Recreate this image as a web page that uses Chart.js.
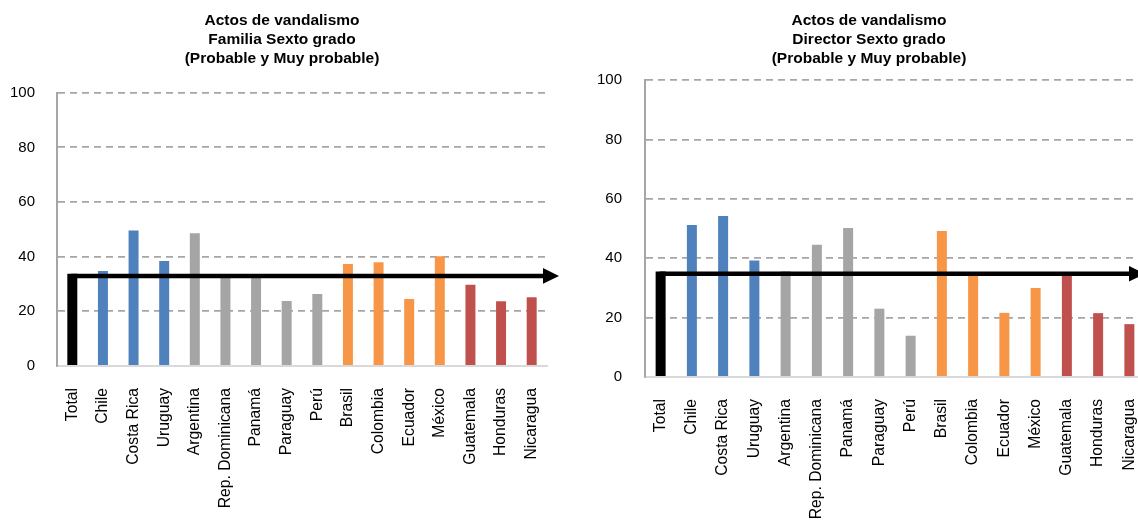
<!DOCTYPE html>
<html>
<head>
<meta charset="utf-8">
<script src="https://cdn.jsdelivr.net/npm/chart.js@4.4.1/dist/chart.umd.min.js"></script>
<style>
  html, body { margin: 0; padding: 0; background: #fff; overflow: hidden; width: 1138px; height: 520px; }
  .wrap { position: absolute; top: 0; }
  canvas { display: block; }
</style>
</head>
<body>
<div class="wrap" style="left:0px"><canvas id="c1" width="564" height="520"></canvas></div>
<div class="wrap" style="left:592px"><canvas id="c2" width="554" height="520"></canvas></div>
<script>
// ---- data ----
const categories = ['Total', 'Chile', 'Costa Rica', 'Uruguay', 'Argentina', 'Rep. Dominicana', 'Panamá', 'Paraguay', 'Perú', 'Brasil', 'Colombia', 'Ecuador', 'México', 'Guatemala', 'Honduras', 'Nicaragua'];
const familiaValues = [33.8, 34.8, 49.6, 38.4, 48.6, 32.2, 33.0, 23.8, 26.3, 37.3, 38.0, 24.5, 40.2, 29.7, 23.7, 25.2];
const directorValues = [35.5, 51.2, 54.2, 39.2, 35.6, 44.5, 50.2, 23.0, 13.9, 49.2, 34.5, 21.6, 30.0, 34.1, 21.5, 17.8];
const barColors = ['#000000', '#4f81bd', '#4f81bd', '#4f81bd', '#a5a5a5', '#a5a5a5', '#a5a5a5', '#a5a5a5', '#a5a5a5', '#f79646', '#f79646', '#f79646', '#f79646', '#c0504d', '#c0504d', '#c0504d'];
const yMin = 0, yMax = 100, yStep = 20;
const titleFamilia = ['Actos de vandalismo', 'Familia Sexto grado', '(Probable y Muy probable)'];
const titleDirector = ['Actos de vandalismo', 'Director Sexto grado', '(Probable y Muy probable)'];

const FONT = "'Liberation Sans', Arial, sans-serif";

const arrowPlugin = {
  id: 'avgArrow',
  afterDatasetsDraw(chart, args, opts) {
    const bar = chart.getDatasetMeta(0).data[0];
    const { ctx, chartArea } = chart;
    const lw = opts.width;
    const y = bar.y + lw / 2;
    const tipX = chartArea.right + opts.overhang;
    const headLen = 16, headHalf = 7.8;
    ctx.save();
    ctx.strokeStyle = '#000';
    ctx.fillStyle = '#000';
    ctx.lineWidth = lw;
    ctx.beginPath();
    ctx.moveTo(bar.x - 1, y);
    ctx.lineTo(tipX - headLen + 1, y);
    ctx.stroke();
    ctx.beginPath();
    ctx.moveTo(tipX - headLen, y - headHalf);
    ctx.lineTo(tipX, y);
    ctx.lineTo(tipX - headLen, y + headHalf);
    ctx.closePath();
    ctx.fill();
    ctx.restore();
  }
};

function makeChart(id, values, title, cfg) {
  return new Chart(document.getElementById(id), {
    type: 'bar',
    data: {
      labels: categories,
      datasets: [{
        data: values,
        backgroundColor: barColors,
        borderWidth: 0,
        barPercentage: cfg.barPct,
        categoryPercentage: 1
      }]
    },
    plugins: [arrowPlugin],
    options: {
      responsive: false,
      animation: false,
      events: [],
      layout: { padding: 0 },
      plugins: {
        legend: { display: false },
        tooltip: { enabled: false },
        title: {
          display: true,
          text: title,
          color: '#000',
          font: { family: FONT, size: 15.5, weight: 'bold', lineHeight: 1.213 },
          padding: { top: 11.5, bottom: cfg.titleBottom }
        },
        avgArrow: { width: 4.5, overhang: cfg.overhang }
      },
      scales: {
        x: {
          type: 'category',
          grid: { display: false, drawTicks: false },
          border: { display: true, color: '#d9d9d9', width: 2 },
          ticks: {
            color: '#000',
            font: { family: FONT, size: 15.7 },
            minRotation: 90,
            maxRotation: 90,
            autoSkip: false,
            padding: cfg.xPad
          },
          afterFit(scale) {
            scale.height = cfg.xHeight;
            scale.paddingLeft = 0;
            scale.paddingRight = cfg.padRight;
          }
        },
        y: {
          min: yMin,
          max: yMax,
          grid: {
            drawTicks: false,
            lineWidth: 1.8,
            color: (c) => (c.tick && c.tick.value === 0) ? 'rgba(0,0,0,0)' : '#a6a6a6'
          },
          border: { display: true, color: '#a6a6a6', width: 2, dash: [7, 5] },
          ticks: {
            stepSize: yStep,
            color: '#000',
            font: { family: FONT, size: 15 },
            padding: cfg.yPad
          },
          afterFit(scale) { scale.width = cfg.yWidth; }
        }
      }
    }
  });
}

makeChart('c1', familiaValues, titleFamilia, {
  barPct: 0.326, padRight: 17, titleBottom: 24.8, overhang: 12,
  xHeight: 154, xPad: 22, yWidth: 57, yPad: 22
});
makeChart('c2', directorValues, titleDirector, {
  barPct: 0.32, padRight: 1, titleBottom: 12.1, overhang: 0,
  xHeight: 143, xPad: 22, yWidth: 53, yPad: 23
});
</script>
</body>
</html>
